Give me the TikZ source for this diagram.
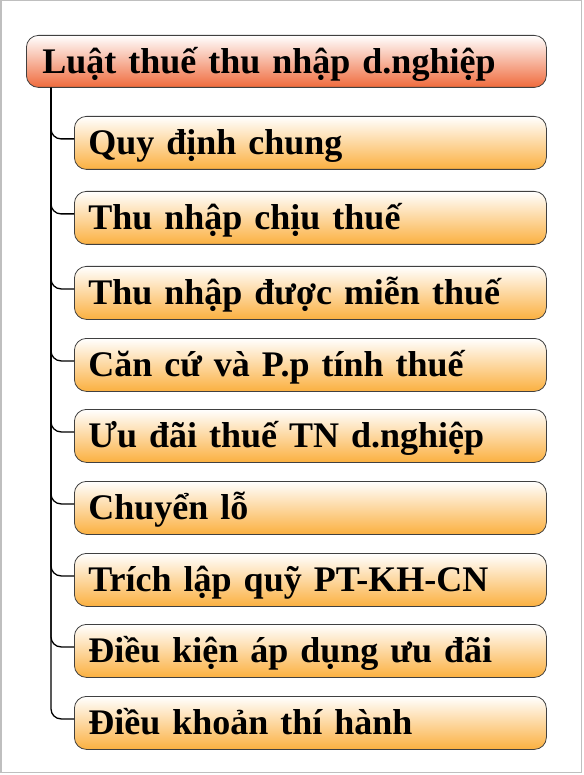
\documentclass[tikz,border=0pt]{standalone}
\usepackage{fontspec}
\setmainfont{Liberation Serif}
\definecolor{rootorange}{HTML}{EF6A3C}
\definecolor{itemorange}{HTML}{FBB040}
\tikzset{
    topic/.style={draw=black!75, line width=0.8pt, rounded corners=12pt, anchor=north west,
        top color=white, align=left, inner ysep=0pt, text height=30pt, text depth=6pt,
        font=\fontsize{36}{40}\selectfont\bfseries},
    roottopic/.style={topic, bottom color=rootorange, text width=488pt, inner xsep=16pt, minimum height=52pt},
    subtopic/.style={topic, bottom color=itemorange, text width=444pt, inner xsep=14pt, minimum height=53pt},
    branch/.style={line width=1.3pt, rounded corners=10pt}
}
\begin{document}
\begin{tikzpicture}[x=1pt,y=-1pt]%
        \useasboundingbox (0,0) rectangle (583,775);
        \draw[gray!50, line width=1.5pt] (0.75,0.75) rectangle (581.5,772.5);
        \node[roottopic] (root) at (26,35) {Luật thuế thu nhập d.nghiệp};
        \foreach \y/\t [count=\i] in {116/Quy định chung, 191/Thu nhập chịu thuế,
            266/Thu nhập được miễn thuế, 338/Căn cứ và P.p tính thuế,
            409/Ưu đãi thuế TN d.nghiệp, 481/Chuyển lỗ, 553/Trích lập quỹ PT-KH-CN,
            624/Điều kiện áp dụng ưu đãi, 696/Điều khoản thí hành}
            \node[subtopic] (c\i) at (74,\y) {\t};
        \coordinate (trunk) at ([xshift=25pt]root.south west);
        \foreach \i in {1,...,9}
            \draw[branch] (trunk) |- ([yshift=4pt]c\i.west);
    \end{tikzpicture}
\end{document}
